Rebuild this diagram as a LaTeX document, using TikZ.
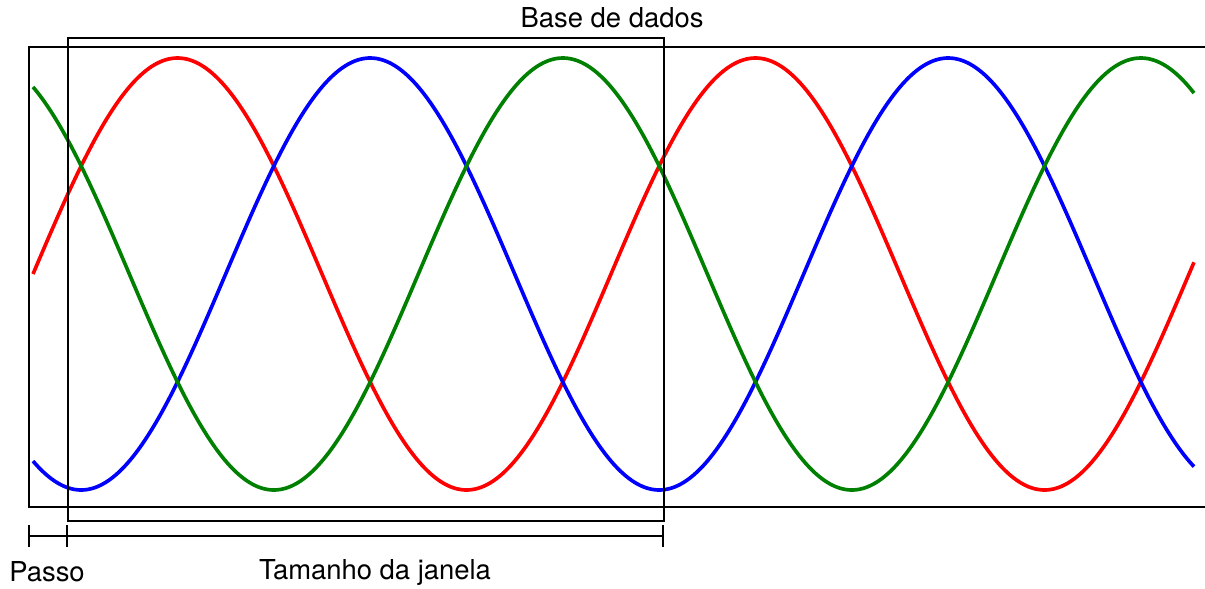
\documentclass[tikz,border=0pt]{standalone}
\usepackage{fontspec}
\setmainfont{TeX Gyre Heros}
\usepackage{tikz}
\usetikzlibrary{calc}
\definecolor{wavered}{HTML}{FF0000}
\definecolor{waveblue}{HTML}{0000FF}
\definecolor{wavegreen}{HTML}{008000}
\tikzset{
  frame/.style={draw=black, line width=1.5pt},
  wave/.style={line width=2.6pt, smooth, samples=240, domain=33:1194},
  label/.style={font=\fontsize{19.5}{23}\selectfont, inner sep=0pt}
}
\begin{document}
\begin{tikzpicture}[x=0.025cm, y=-0.025cm]
  \useasboundingbox (0,0) rectangle (1205,588);
  % data base frame (open on the right)
  \draw[frame] (1205,47) -- (29,47) -- (29,507) -- (1205,507);
  % three-phase waves, period 578
  \draw[wave, wavered]   plot (\x, {274-216*sin(0.62284*(\x-33))});
  \draw[wave, waveblue]  plot (\x, {274-216*sin(0.62284*(\x-33)-120)});
  \draw[wave, wavegreen] plot (\x, {274-216*sin(0.62284*(\x-33)+120)});
  % window frame
  \node[frame, minimum width=596*0.025cm, minimum height=483*0.025cm,
    anchor=north west, inner sep=0pt] (janela) at (67,37) {};
  \node[label] (base) at (612,18) {Base de dados};
  % step and window size
  \coordinate (t0) at (29,536);
  \coordinate (t1) at (67,536);
  \coordinate (t2) at (663,536);
  \draw[frame] (t0) -- (t2);
  \foreach \t in {t0, t1, t2}
    \draw[frame] ($(\t)+(0,-11)$) -- ($(\t)+(0,11)$);
  \node[label] (passo) at (47,572) {Passo};
  \node[label] (tamanho) at (375,572) {Tamanho da janela};
\end{tikzpicture}
\end{document}
